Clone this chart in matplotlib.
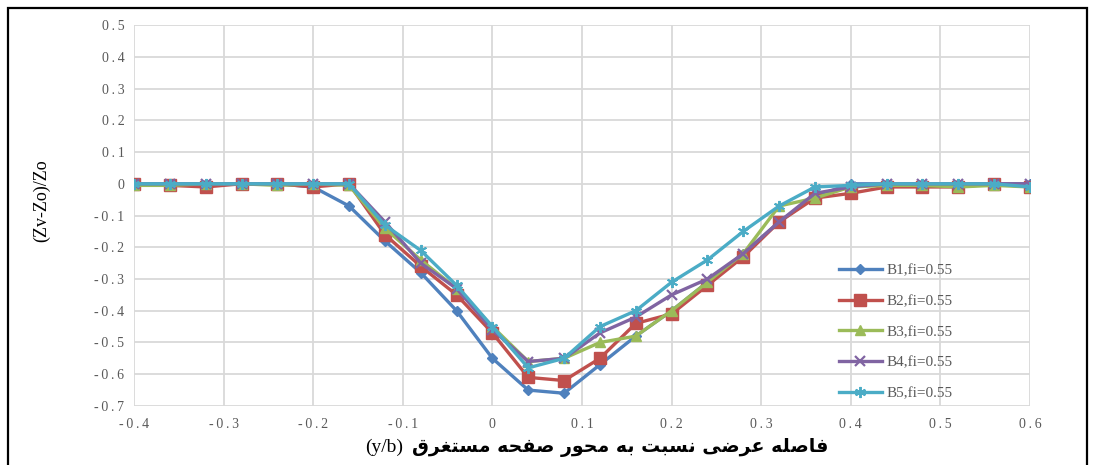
import matplotlib.pyplot as plt
from matplotlib.patches import Rectangle

# Data
x = [-0.40, -0.36, -0.32, -0.28, -0.24, -0.20, -0.16, -0.12, -0.08, -0.04, 0.00,
     0.04, 0.08, 0.12, 0.16, 0.20, 0.24, 0.28, 0.32, 0.36, 0.40, 0.44, 0.48,
     0.52, 0.56, 0.60]

b1 = [0, 0, 0, 0, 0, -0.01, -0.07, -0.18, -0.28, -0.40, -0.55, -0.65, -0.66,
      -0.57, -0.48, -0.40, -0.31, -0.22, -0.12, -0.04, 0, 0, 0, 0, 0, 0]
b2 = [0, -0.005, -0.01, 0, 0, -0.01, 0, -0.16, -0.26, -0.35, -0.47, -0.61, -0.62,
      -0.55, -0.44, -0.41, -0.32, -0.23, -0.12, -0.045, -0.03, -0.01, -0.01,
      -0.01, 0, -0.01]
b3 = [-0.005, -0.005, 0, 0, -0.005, 0, -0.005, -0.14, -0.24, -0.33, -0.45, -0.56,
      -0.55, -0.50, -0.48, -0.40, -0.31, -0.22, -0.07, -0.045, -0.01, -0.005,
      -0.005, -0.01, -0.005, -0.01]
b4 = [0, 0, 0, 0, 0, 0, 0, -0.12, -0.25, -0.33, -0.46, -0.56, -0.55, -0.47,
      -0.42, -0.35, -0.30, -0.22, -0.12, -0.03, -0.01, 0, 0, 0, 0, 0]
b5 = [0, 0, 0, 0, 0, 0, 0, -0.13, -0.21, -0.32, -0.45, -0.58, -0.55, -0.45,
      -0.40, -0.31, -0.24, -0.15, -0.07, -0.01, -0.005, 0, 0, 0, 0, -0.01]

labels = ['B1,fi=0.55', 'B2,fi=0.55', 'B3,fi=0.55', 'B4,fi=0.55', 'B5,fi=0.55']
x_ticks = [-0.4, -0.3, -0.2, -0.1, 0, 0.1, 0.2, 0.3, 0.4, 0.5, 0.6]
y_ticks = [0.5, 0.4, 0.3, 0.2, 0.1, 0, -0.1, -0.2, -0.3, -0.4, -0.5, -0.6, -0.7]
x_title = 'فاصله عرضی نسبت به محور صفحه مستغرق'
x_unit = '(y/b)'
y_title = '(Zv-Zo)/Zo'


# matplotlib has no Arabic shaping, so pick the joined glyph forms by hand
forms = {
    'ا': ('\uFE8D', '\uFE8E', None, None),
    'ب': ('\uFE8F', '\uFE90', '\uFE91', '\uFE92'),
    'ت': ('\uFE95', '\uFE96', '\uFE97', '\uFE98'),
    'ح': ('\uFEA1', '\uFEA2', '\uFEA3', '\uFEA4'),
    'ر': ('\uFEAD', '\uFEAE', None, None),
    'س': ('\uFEB1', '\uFEB2', '\uFEB3', '\uFEB4'),
    'ص': ('\uFEB9', '\uFEBA', '\uFEBB', '\uFEBC'),
    'ض': ('\uFEBD', '\uFEBE', '\uFEBF', '\uFEC0'),
    'ع': ('\uFEC9', '\uFECA', '\uFECB', '\uFECC'),
    'غ': ('\uFECD', '\uFECE', '\uFECF', '\uFED0'),
    'ف': ('\uFED1', '\uFED2', '\uFED3', '\uFED4'),
    'ق': ('\uFED5', '\uFED6', '\uFED7', '\uFED8'),
    'ل': ('\uFEDD', '\uFEDE', '\uFEDF', '\uFEE0'),
    'م': ('\uFEE1', '\uFEE2', '\uFEE3', '\uFEE4'),
    'ن': ('\uFEE5', '\uFEE6', '\uFEE7', '\uFEE8'),
    'ه': ('\uFEE9', '\uFEEA', '\uFEEB', '\uFEEC'),
    'و': ('\uFEED', '\uFEEE', None, None),
    'ی': ('\uFBFC', '\uFBFD', '\uFBFE', '\uFBFF'),
}


def shape(word):
    out = []
    for i, ch in enumerate(word):
        f = forms[ch]
        prev_joins = i > 0 and forms[word[i - 1]][2] is not None
        next_joins = i < len(word) - 1 and f[2] is not None
        if prev_joins and next_joins:
            out.append(f[3])
        elif prev_joins:
            out.append(f[1])
        elif next_joins:
            out.append(f[2])
        else:
            out.append(f[0])
    return ''.join(out)


def visual(text):
    words = [shape(w) for w in text.split(' ')]
    return ' '.join(w[::-1] for w in words[::-1])


def spaced(v):
    s = '%g' % v
    return '\u2009'.join(s)


plt.rcParams['font.family'] = ['Liberation Serif', 'DejaVu Sans']

fig = plt.figure(figsize=(10.94, 4.65), dpi=100)
ax = fig.add_axes([0.1225, 0.127, 0.819, 0.819])

ax.plot(x, b1, color='#4F81BD', lw=2.4, marker='D', ms=5.5, label=labels[0])
ax.plot(x, b2, color='#C0504D', lw=2.4, marker='s', ms=8, label=labels[1])
ax.plot(x, b3, color='#9BBB59', lw=2.4, marker='^', ms=7.5, label=labels[2])
ax.plot(x, b4, color='#8064A2', lw=2.4, marker='x', ms=7, mew=1.6, label=labels[3])
ax.plot(x, b5, color='#4BACC6', lw=2.4, marker=(6, 2, 0), ms=8, mew=1.4,
        label=labels[4])

ax.set_xlim(-0.4, 0.6)
ax.set_ylim(-0.7, 0.5)
ax.set_xticks(x_ticks)
ax.set_yticks(y_ticks)
ax.set_xticklabels([spaced(v) for v in x_ticks])
ax.set_yticklabels([spaced(v) for v in y_ticks])
ax.tick_params(length=0, labelsize=10, labelcolor='#595959')
ax.tick_params(axis='x', pad=9)
ax.tick_params(axis='y', pad=7)
ax.grid(True, color='#d9d9d9', lw=1.3)
ax.set_axisbelow(True)
for sp in ax.spines.values():
    sp.set_visible(False)

ax.set_ylabel(y_title, fontsize=13)
ax.yaxis.set_label_coords(-0.094, 0.54)

# x title: Latin unit on the left, Persian text (bold) to its right
ax.text(0.258, -0.11, x_unit, transform=ax.transAxes, fontsize=14,
        ha='left', va='center')
ax.text(0.775, -0.11, visual(x_title), transform=ax.transAxes, fontsize=13.6,
        ha='right', va='center', family=['DejaVu Sans'], fontweight='bold')

ax.legend(loc='upper left', bbox_to_anchor=(0.78, 0.39), frameon=False,
          fontsize=11, handlelength=2.8, labelspacing=1.12, handletextpad=0.3,
          borderaxespad=0, labelcolor='#595959')

fig.add_artist(Rectangle((8 / 1094, -0.02), 1079 / 1094, 1 - 8 / 465 + 0.02,
                         transform=fig.transFigure, fill=False, lw=1.6,
                         edgecolor='black'))

fig.savefig('out.png', dpi=100)
